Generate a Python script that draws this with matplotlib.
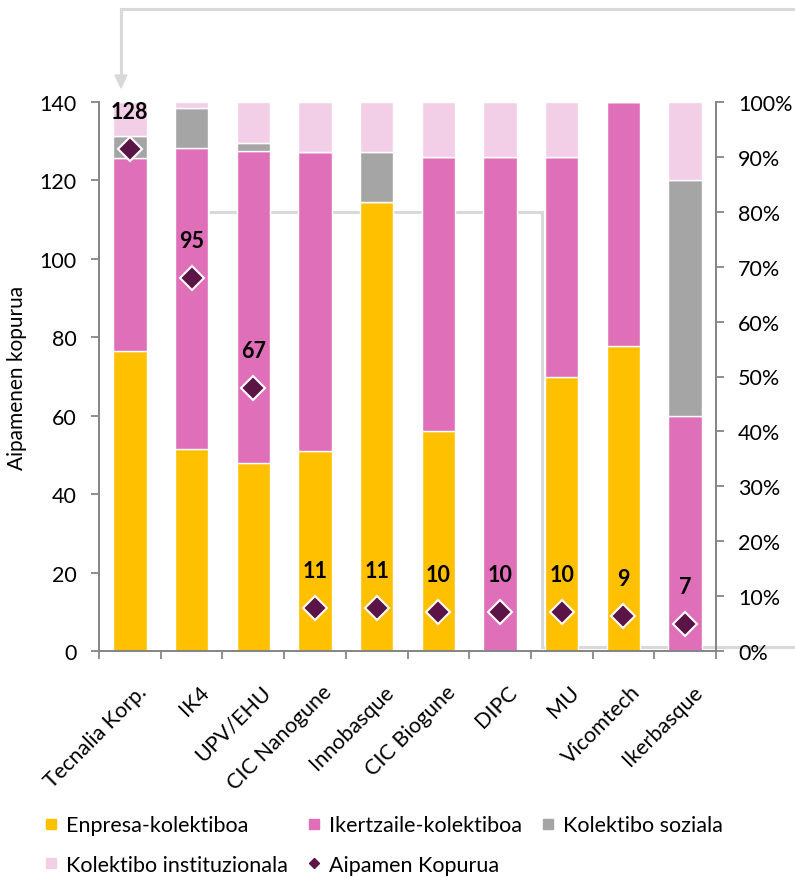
import numpy as np
import matplotlib
matplotlib.use('Agg')
import matplotlib.pyplot as plt
from matplotlib.lines import Line2D
from matplotlib.transforms import ScaledTranslation

plt.rcParams['font.family'] = ['Lato', 'DejaVu Sans']

# Data (mentions per collective, per organisation)
categories = ['Tecnalia Korp.', 'IK4', 'UPV/EHU', 'CIC Nanogune', 'Innobasque',
              'CIC Biogune', 'DIPC', 'MU', 'Vicomtech', 'Ikerbasque']
enpresa = [70, 35, 23, 4, 9, 4, 0, 5, 5, 0]
ikertzaile = [45, 52, 38, 6, 0, 5, 9, 4, 4, 3]
soziala = [5, 7, 1, 0, 1, 0, 0, 0, 0, 3]
instituzionala = [8, 1, 5, 1, 1, 1, 1, 1, 0, 1]
aipamenak = [128, 95, 67, 11, 11, 10, 10, 10, 9, 7]

series_names = ['Enpresa-kolektiboa', 'Ikertzaile-kolektiboa', 'Kolektibo soziala',
                'Kolektibo instituzionala']
series_colors = ['#FFC000', '#DF6FB8', '#A5A5A5', '#F3CFE7']
diamond_color = '#5A1446'
axis_grey = '#868686'
deco_grey = '#D9D9D9'
fs = 15.5

total = np.array(aipamenak, dtype=float)
shares = [np.array(s) / total * 100 for s in (enpresa, ikertzaile, soziala, instituzionala)]

W, H = 795, 879
fig = plt.figure(figsize=(W / 100, H / 100), dpi=100)

# decorative connector lines behind the chart (figure pixel coords)
def px(x, y):
    return x / W, 1 - y / H

for path in ([(795, 10), (121, 10), (121, 78)],
             [(211, 213), (542, 213), (542, 648), (795, 648)]):
    xs, ys = zip(*[px(*p) for p in path])
    fig.add_artist(Line2D(xs, ys, color=deco_grey, lw=2.2, zorder=-1,
                          solid_joinstyle='miter'))
fig.patches.append(plt.Polygon([px(115, 76), px(127, 76), px(121, 89)], closed=True,
                               transform=fig.transFigure, color=deco_grey, zorder=-1))

ax = fig.add_axes([99 / W, 1 - 652 / H, (716 - 99) / W, (652 - 103) / H])
ax.patch.set_visible(False)
x = np.arange(len(categories))
bottom = np.zeros(len(categories))
for name, vals, col in zip(series_names, shares, series_colors):
    ax.bar(x, vals, 0.54, bottom=bottom, color=col, edgecolor='white', linewidth=1.0,
           label=name, zorder=2)
    bottom += vals

ax.set_xlim(-0.5, len(categories) - 0.5)
ax.set_ylim(0, 100)

ax2 = ax.twinx()
ax2.patch.set_visible(False)
ax2.plot(x, aipamenak, linestyle='none', marker='D', markersize=12.5,
         markerfacecolor=diamond_color, markeredgecolor='white', markeredgewidth=1.5,
         zorder=5, label='Aipamen Kopurua')
for xi, v in zip(x, aipamenak):
    ax2.annotate(str(v), (xi, v), xytext=(0, 27), textcoords='offset points',
                 ha='center', va='center', fontsize=fs, fontweight='bold', color='black')
ax2.set_ylim(0, 140)
ax2.set_yticks(np.arange(0, 141, 20))
ax2.yaxis.tick_left()
ax2.yaxis.set_label_position('left')
ax2.set_ylabel('Aipamenen kopurua', fontsize=15, labelpad=9)

# percent axis goes on the right
ax.yaxis.tick_right()
ax.set_yticks(np.arange(0, 101, 10))
ax.set_yticklabels([f'{v}%' for v in range(0, 101, 10)])

for a in (ax, ax2):
    a.spines['top'].set_visible(False)
    for s in ('left', 'right', 'bottom'):
        a.spines[s].set_color(axis_grey)
        a.spines[s].set_linewidth(1.3)
    a.tick_params(axis='y', length=6, width=1.3, color=axis_grey, pad=10,
                  labelsize=fs, labelcolor='black')

# categories: labels at centres, tick marks at boundaries
ax.set_xticks(x)
ax.set_xticklabels(categories, rotation=45, ha='right', va='top', rotation_mode='anchor')
ax.set_xticks(np.arange(-0.5, len(categories), 1), minor=True)
ax.tick_params(axis='x', which='major', length=0, pad=22, labelsize=fs)
ax.tick_params(axis='x', which='minor', length=6, width=1.3, color=axis_grey)
shift = ScaledTranslation(7 / 100, 0, fig.dpi_scale_trans)
for lbl in ax.get_xticklabels():
    lbl.set_transform(lbl.get_transform() + shift)

# legend laid out row-wise in three columns
h_sq = [Line2D([], [], linestyle='none', marker='s', markersize=7, color=c)
        for c in series_colors]
h_dm = Line2D([], [], linestyle='none', marker='D', markersize=5.5, color=diamond_color)
handles = [h_sq[0], h_sq[3], h_sq[1], h_dm, h_sq[2]]
labels = [series_names[0], series_names[3], series_names[1], 'Aipamen Kopurua',
          series_names[2]]
fig.legend(handles, labels, ncol=3, loc='center left', bbox_to_anchor=(36 / W, 1 - 846 / H),
           frameon=False, fontsize=fs, handlelength=0.6, handletextpad=0.4,
           columnspacing=0.9, labelspacing=0.9, borderaxespad=0)

fig.savefig('out.png', dpi=100)
